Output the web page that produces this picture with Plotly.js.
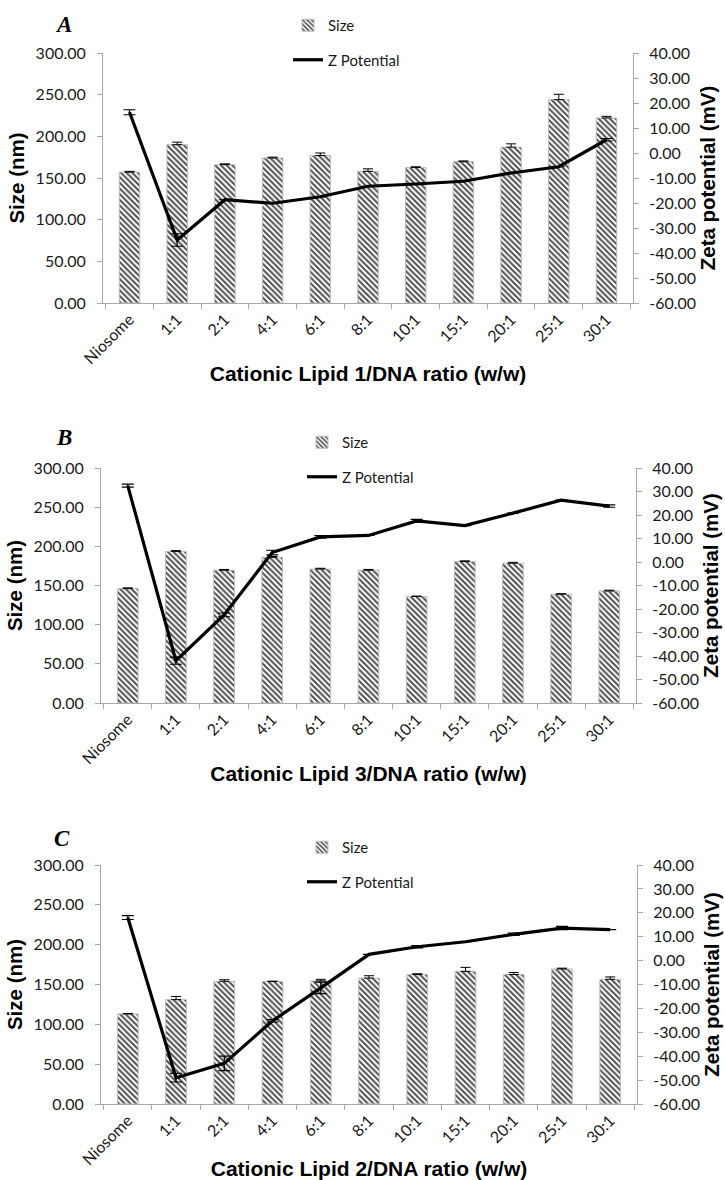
<!DOCTYPE html>
<html>
<head>
<meta charset="utf-8">
<script src="https://cdn.plot.ly/plotly-3.0.1.min.js"></script>
<style>
  html, body { margin: 0; padding: 0; background: #fff; }
  #chart { width: 725px; height: 1180px; }
</style>
</head>
<body>
<div id="chart"></div>
<script>
// ---------------- DATA ----------------
const categories = ['Niosome', '1:1', '2:1', '4:1', '6:1', '8:1', '10:1', '15:1', '20:1', '25:1', '30:1'];

// Panel A – Cationic Lipid 1
const sizeA     = [157, 190, 166, 174, 177, 158, 162.5, 169.5, 187, 244, 222];
const sizeErrA  = [1, 3, 1, 1, 3, 3, 1, 1, 4, 6.5, 2];
const zetaA     = [16.3, -34.8, -18.7, -20.1, -17.5, -13.3, -12.4, -11.3, -8, -5.5, 5.3];
const zetaErrA  = [1, 2.5, 0, 0, 0, 0, 0, 0, 0, 0, 0.5];

// Panel B – Cationic Lipid 3
const sizeB     = [146, 193.5, 169.5, 186, 171, 169.5, 136, 180.5, 178.5, 139, 143];
const sizeErrB  = [1, 1, 1, 1, 1, 1, 0.5, 1, 1, 0.5, 1];
const zetaB     = [32.5, -42, -22.5, 4, 10.7, 11.3, 17.5, 15.5, 20.8, 26.3, 23.8];
const zetaErrB  = [0.6, 1.5, 0.8, 1, 0.5, 0, 0.6, 0, 0, 0, 0.5];

// Panel C – Cationic Lipid 2
const sizeC     = [113, 131, 154, 153.7, 154.5, 158, 162.5, 166.5, 162.5, 169.5, 156.5];
const sizeErrC  = [0.5, 4, 2, 0.5, 2, 3, 1, 5, 2.5, 1, 3];
const zetaC     = [18, -49, -43, -25.2, -11.4, 2.6, 5.8, 7.9, 11, 13.6, 13];
const zetaErrC  = [0.8, 1.8, 3, 0.5, 2.4, 0, 0.5, 0, 0.5, 0.7, 0];

// Tick labels
const sizeTickVals = [0, 50, 100, 150, 200, 250, 300];
const sizeTickText = ['0.00', '50.00', '100.00', '150.00', '200.00', '250.00', '300.00'];
const zetaTickVals = [-60, -50, -40, -30, -20, -10, 0, 10, 20, 30, 40];
const zetaTickText = ['-60.00', '-50.00', '-40.00', '-30.00', '-20.00', '-10.00', '0.00', '10.00', '20.00', '30.00', '40.00'];

const panelLetters = ['A', 'B', 'C'];
const lipidNumbers = ['1', '3', '2'];
const legendNames = ['Size', 'Z Potential'];

// ---------------- LAYOUT HELPERS ----------------
const W = 725, H = 1180;
const fx = p => p / W;
const fy = p => 1 - p / H;

// pixel geometry of each panel: [left, right, top, bottom]
const geom = [
  [103, 633, 53, 303],
  [101, 636, 468, 703],
  [101, 637, 865, 1104]
];
const letterPos = [[64, 25], [64, 437], [62, 838]];
const legendPos = [[288, 9], [302, 426], [302, 831]];

const tickFont = { family: 'Lato, "Open Sans", sans-serif', size: 16, color: '#1a1a1a' };
const titleFont = { family: '"Liberation Sans", Arial, sans-serif', size: 20.5, color: '#000', weight: 'bold' };
const axisGrey = '#a8a8a8';

const sizes = [sizeA, sizeB, sizeC];
const sizeErrs = [sizeErrA, sizeErrB, sizeErrC];
const zetas = [zetaA, zetaB, zetaC];
const zetaErrs = [zetaErrA, zetaErrB, zetaErrC];

const data = [];
const layout = {
  width: W, height: H,
  margin: { l: 0, r: 0, t: 0, b: 0 },
  paper_bgcolor: '#fff', plot_bgcolor: 'rgba(0,0,0,0)',
  showlegend: true,
  annotations: []
};

for (let i = 0; i < 3; i++) {
  const [l, r, t, b] = geom[i];
  const xName = i === 0 ? 'x' : 'x' + (i + 1);
  const yL = 'y' + (2 * i + 1 === 1 ? '' : 2 * i + 1);
  const yR = 'y' + (2 * i + 2);
  const legName = i === 0 ? 'legend' : 'legend' + (i + 1);

  data.push({
    type: 'bar', x: categories, y: sizes[i],
    xaxis: xName, yaxis: yL,
    name: legendNames[0], legend: legName, legendgroup: 'g' + i + 'a',
    width: 0.43,
    marker: {
      color: '#ffffff',
      line: { color: '#bdbdbd', width: 1 },
      pattern: { shape: '\\', fgcolor: '#4f4f4f', bgcolor: '#ffffff', size: 4, solidity: 0.5 }
    },
    error_y: { type: 'data', symmetric: false, array: sizeErrs[i], arrayminus: sizeErrs[i].map(() => 0), color: '#000', thickness: 1, width: 5 },
    hoverinfo: 'skip'
  });
  data.push({
    type: 'scatter', mode: 'lines', x: categories, y: zetas[i],
    xaxis: xName, yaxis: yR,
    name: legendNames[1], legend: legName, legendgroup: 'g' + i + 'b',
    line: { color: '#000', width: 3.2 },
    error_y: { type: 'data', array: zetaErrs[i], color: '#000', thickness: 1.2, width: 6 },
    hoverinfo: 'skip'
  });

  const xKey = i === 0 ? 'xaxis' : 'xaxis' + (i + 1);
  const yLKey = 'yaxis' + (2 * i + 1 === 1 ? '' : 2 * i + 1);
  const yRKey = 'yaxis' + (2 * i + 2);

  layout[xKey] = {
    domain: [fx(l), fx(r)], anchor: yL, type: 'category',
    showline: true, linecolor: axisGrey, linewidth: 1,
    ticks: 'outside', tickson: 'boundaries', ticklen: 5, tickcolor: axisGrey,
    tickangle: -45, tickfont: tickFont, showgrid: false, zeroline: false,
    automargin: false,
    title: { text: 'Cationic Lipid ' + lipidNumbers[i] + '/DNA ratio (w/w)', font: Object.assign({}, titleFont, { size: 21 }), standoff: 0 }
  };
  layout[yLKey] = {
    domain: [fy(b), fy(t)], anchor: xName, range: [0, 300],
    tickvals: sizeTickVals, ticktext: sizeTickText,
    showline: true, linecolor: axisGrey, linewidth: 1,
    ticks: 'outside', ticklen: 5, tickcolor: axisGrey, ticklabelstandoff: 8,
    tickfont: tickFont, showgrid: false, zeroline: false, automargin: false,
    title: { text: 'Size (nm)', font: titleFont, standoff: 5 }
  };
  layout[yRKey] = {
    overlaying: yL, side: 'right', anchor: xName, range: [-60, 40],
    tickvals: zetaTickVals, ticktext: zetaTickText,
    showline: true, linecolor: axisGrey, linewidth: 1,
    ticks: 'outside', ticklen: 5, tickcolor: axisGrey, ticklabelstandoff: 7,
    tickfont: tickFont, showgrid: false, zeroline: false, automargin: false,
    title: { text: 'Zeta potential (mV)', font: titleFont, standoff: 5 }
  };
  layout[legName] = {
    x: fx(legendPos[i][0]), y: fy(legendPos[i][1]), xanchor: 'left', yanchor: 'top',
    bgcolor: 'rgba(0,0,0,0)', borderwidth: 0,
    font: { family: 'Lato, "Open Sans", sans-serif', size: 15, color: '#1a1a1a' },
    traceorder: 'grouped', tracegroupgap: 12
  };
  layout.annotations.push({
    text: '<b><i>' + panelLetters[i] + '</i></b>',
    x: fx(letterPos[i][0]), y: fy(letterPos[i][1]), xref: 'paper', yref: 'paper',
    xanchor: 'center', yanchor: 'middle', showarrow: false,
    font: { family: '"Liberation Serif", "DejaVu Serif", serif', size: 23, color: '#000' }
  });
}

Plotly.newPlot('chart', data, layout, { staticPlot: true, displayModeBar: false });
</script>
</body>
</html>
